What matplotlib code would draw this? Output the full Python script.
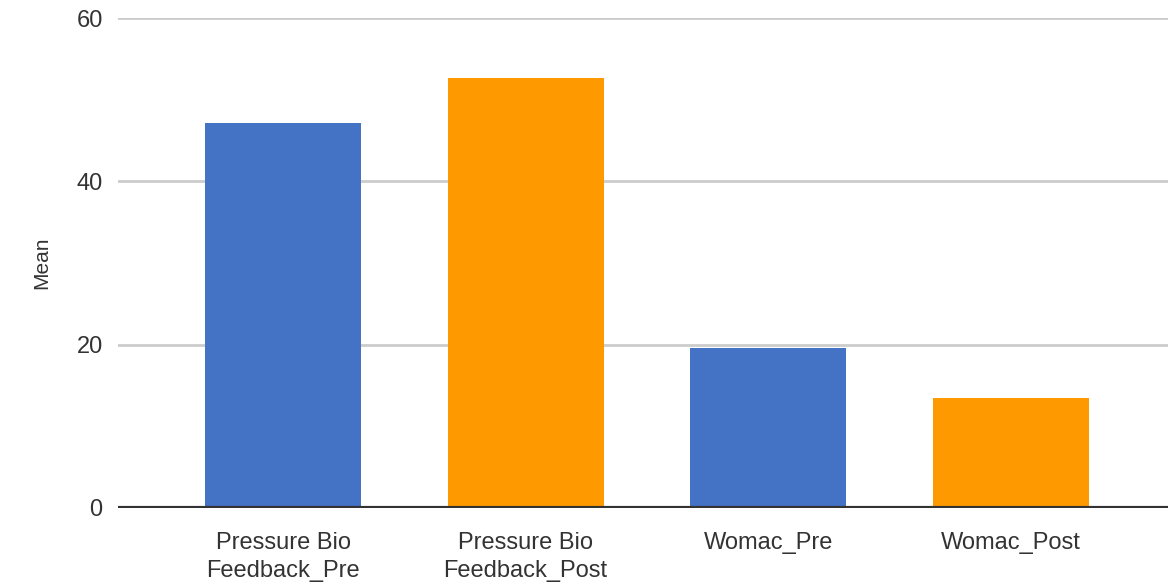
import numpy as np
import matplotlib.pyplot as plt

# Mean scores before / after treatment
categories = ["Pressure Bio\nFeedback_Pre", "Pressure Bio\nFeedback_Post", "Womac_Pre", "Womac_Post"]
means = [47.2, 52.6, 19.6, 13.5]
bar_colors = ["#4472C4", "#FF9900", "#4472C4", "#FF9900"]
yticks = [0, 20, 40, 60]

plt.rcParams['font.family'] = ['Liberation Sans', 'DejaVu Sans']

fig = plt.figure(figsize=(11.68, 5.86), dpi=100)
ax = fig.add_axes([118/1168, 1 - 508/586, 1 - 118/1168, (508 - 18)/586])

x = np.arange(len(categories))
ax.bar(x, means, width=0.643, color=bar_colors, zorder=3)

ax.set_ylim(0, 60)
ax.set_xlim(-0.68, 3.647)
ax.set_yticks(yticks)
ax.set_xticks(x)
ax.set_xticklabels(categories, fontsize=17, color="#333333", linespacing=1.35)
ax.tick_params(axis='y', labelsize=17, labelcolor="#333333", length=0, pad=11)
ax.tick_params(axis='x', length=0, pad=17)

# light horizontal grid, dark baseline
ax.grid(axis='y', color="#cccccc", linewidth=2, zorder=0)
for s in ax.spines.values():
    s.set_visible(False)
ax.axhline(0, color="#333333", linewidth=3, zorder=4)

ax.set_ylabel("Mean", fontsize=15, color="#333333")
ax.yaxis.set_label_coords(-0.064, 0.5)

fig.savefig("out.png", dpi=100)
